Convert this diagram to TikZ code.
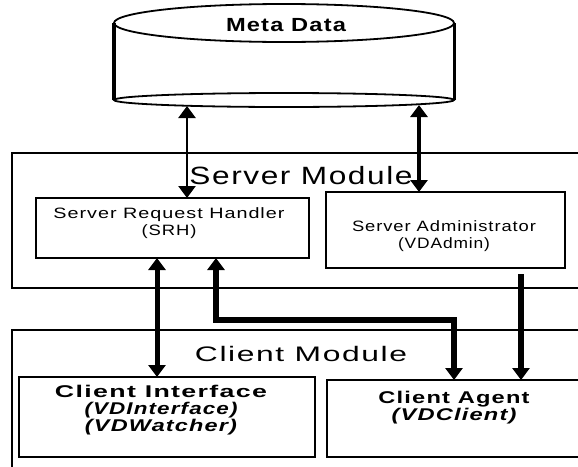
\documentclass[tikz,border=0pt]{standalone}
\usepackage{fontspec}
\setmainfont{Liberation Sans}
\newfontfamily\spacedsans[LetterSpace=5]{Liberation Sans}
\usetikzlibrary{calc}
\usetikzlibrary{positioning}
\usetikzlibrary{arrows.meta}
\colorlet{myline}{black}

% 把一行文字横向拉到给定宽度
\newcommand{\wideto}[2]{\resizebox{#1pt}{\height}{#2}}

\tikzset{
  box/.style={draw=myline, line width=2pt, anchor=north west, inner sep=0pt, outer sep=0pt},
  modbox/.style={box, line width=2.8pt},
  txt/.style={align=center, inner sep=0pt, font=\spacedsans\fontsize{15}{17}\selectfont},
  boldtxt/.style={txt, font=\spacedsans\bfseries\fontsize{17}{17}\selectfont},
  link/.style={draw=myline, line width=5.5pt, -{Triangle[width=17pt,length=12pt]}},
  dlink/.style={link, {Triangle[width=17pt,length=12pt]}-{Triangle[width=17pt,length=12pt]}}
}

\begin{document}
\begin{tikzpicture}[x=1pt, y=-1pt]

    \useasboundingbox (0,0) rectangle (578,466);
    \clip (0,0) rectangle (578,466);

    % 数据库圆柱
    \coordinate (mtop) at (284,23);
    \coordinate (mbot) at (284,100);
    \draw[line width=1.8pt] (mtop) ellipse [x radius=170, y radius=19];
    \draw[line width=1.8pt] (mbot) ellipse [x radius=170, y radius=7];
    \draw[line width=4pt] ($(mtop)+(-170,0)$) -- ($(mbot)+(-170,0)$);
    \draw[line width=3pt] ($(mtop)+(170,0)$) -- ($(mbot)+(170,0)$);
    \node[txt, font=\spacedsans\bfseries\fontsize{19}{20}\selectfont] (metatxt) at (286,25) {\wideto{120}{Meta Data}};

    % 服务器模块
    \node[modbox, minimum width=620pt, minimum height=135pt] (srvmod) at (12,153) {};
    \node[txt, font=\spacedsans\fontsize{25}{26}\selectfont] (srvtxt) at (301,176) {\wideto{223}{Server Module}};
    \node[box, minimum width=273pt, minimum height=60pt] (srh) at (36,198) {};
    \node[txt] (srhtxt) at (169,223.5) {\wideto{231}{Server Request Handler}\\\wideto{55}{(SRH)}};
    \node[box, minimum width=239pt, minimum height=76pt] (sa) at (326,192) {};
    \node[txt] (satxt) at (444,236.5) {\wideto{184}{Server Administrator}\\\wideto{92}{(VDAdmin)}};

    % 客户端模块
    \node[modbox, line width=2.5pt, minimum width=620pt, minimum height=170pt] (climod) at (12,330) {};
    \node[txt, font=\spacedsans\fontsize{21}{23}\selectfont] (clitxt) at (301,354) {\wideto{212}{Client Module}};
    \node[box, minimum width=296pt, minimum height=80pt] (ci) at (19,377) {};
    \node[boldtxt] (citxt) at (161,410) {\wideto{212}{Client Interface}\\\wideto{153}{\itshape(VDInterface)}\\\wideto{152}{\itshape(VDWatcher)}};
    \node[box, minimum width=260pt, minimum height=77pt] (ca) at (327,380) {};
    \node[boldtxt] (catxt) at (454,407.5) {\wideto{151}{Client Agent}\\\wideto{125}{\itshape(VDClient)}};

    % 连线端点
    \coordinate (mbL) at (187,106);
    \coordinate (mbR) at (419,105);
    \path (srh.south west) ++(121,0) coordinate (srhA) ++(59,0) coordinate (srhB);
    \path (ca.north west) ++(127,0) coordinate (caA) ++(67,0) coordinate (caB);
    \coordinate (saout) at ([yshift=-6pt]sa.south);

    % 箭头
    \draw[dlink, line width=2.5pt] (mbL) -- (mbL |- srh.north);
    \draw[dlink, line width=4pt] (mbR) -- (mbR |- sa.north);
    \draw[dlink, line width=5pt] (srhA) -- (srhA |- ci.north);
    \draw[dlink] (srhB) -- ++(0,62) -| (caA);
    \draw[link] (saout -| caB) -- (caB);

\end{tikzpicture}
\end{document}
